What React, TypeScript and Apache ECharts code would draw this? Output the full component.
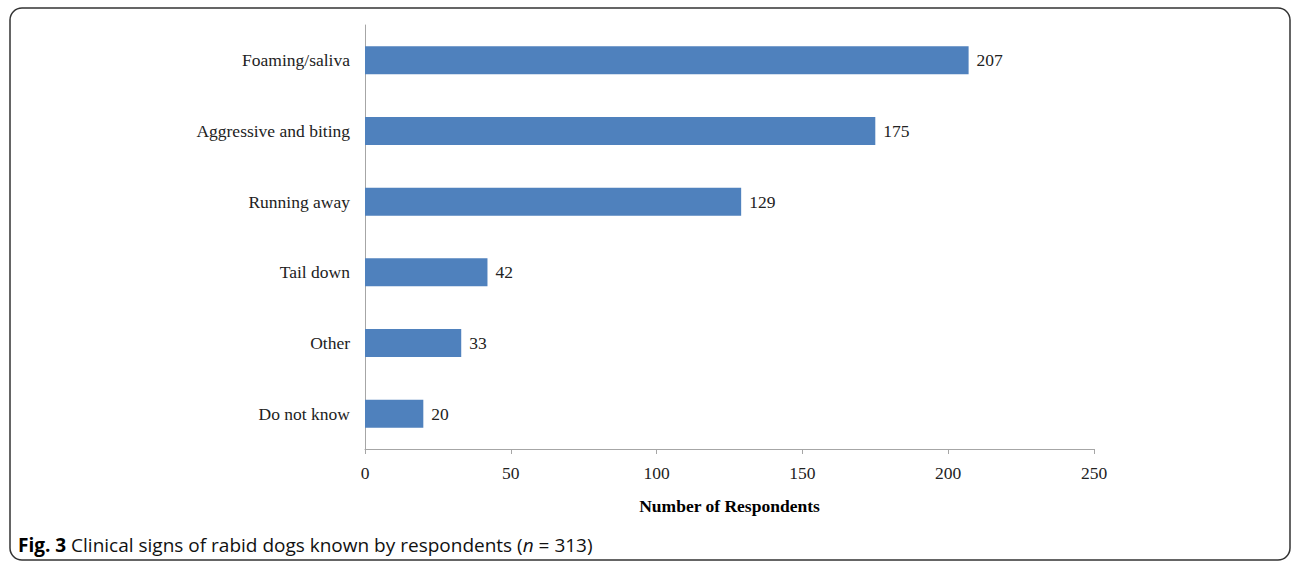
import React, { useEffect, useRef } from "react";
import * as echarts from "echarts";

const categories = ["Foaming/saliva", "Aggressive and biting", "Running away", "Tail down", "Other", "Do not know"];
const values = [207, 175, 129, 42, 33, 20];
const xTicks = { min: 0, max: 250, interval: 50 };
const xAxisTitle = "Number of Respondents";
const captionBold = "Fig. 3";
const captionText = " Clinical signs of rabid dogs known by respondents (";
const captionN = "n";
const captionTail = " = 313)";

export default function App() {
  const ref = useRef<HTMLDivElement>(null);
  useEffect(() => {
    document.body.style.margin = "0";
    const chart = echarts.init(ref.current!, null, { renderer: "svg" });
    const serif = "Liberation Serif";
    const fs = 17.5;
    chart.setOption({
      animation: false,
      backgroundColor: "#ffffff",
      grid: { left: 365, right: 198, top: 25, bottom: 114, containLabel: false },
      xAxis: {
        type: "value",
        min: xTicks.min,
        max: xTicks.max,
        interval: xTicks.interval,
        name: xAxisTitle,
        nameLocation: "middle",
        nameGap: 48,
        nameTextStyle: { fontFamily: serif, fontWeight: "bold", fontSize: fs, color: "#000" },
        axisLine: { show: true, lineStyle: { color: "#a6a6a6", width: 1 } },
        axisTick: { show: true, length: 5, lineStyle: { color: "#a6a6a6" } },
        axisLabel: { fontFamily: serif, fontSize: fs, color: "#222", margin: 15 },
        splitLine: { show: false },
      },
      yAxis: {
        type: "category",
        data: categories,
        inverse: true,
        axisLine: { show: true, lineStyle: { color: "#a6a6a6", width: 1 } },
        axisTick: { show: false },
        axisLabel: { fontFamily: serif, fontSize: fs, color: "#222", margin: 15 },
      },
      series: [
        {
          type: "bar",
          data: values,
          barWidth: 28,
          itemStyle: { color: "#4f81bd" },
          label: {
            show: true,
            position: "right",
            distance: 8,
            fontFamily: serif,
            fontSize: fs,
            color: "#222",
          },
        },
      ],
      graphic: [
        {
          type: "rect",
          shape: { x: 10, y: 8, width: 1280, height: 552, r: 12 },
          style: { fill: "none", stroke: "#333", lineWidth: 1.5 },
          silent: true,
        },
        {
          type: "text",
          left: 18,
          top: 535,
          style: {
            text: `{b|${captionBold}}{r|${captionText}}{i|${captionN}}{r|${captionTail}}`,
            rich: {
              b: { fontFamily: "Open Sans", fontWeight: "bold", fontSize: 19, fill: "#000" },
              r: { fontFamily: "Open Sans", fontSize: 19, fill: "#111" },
              i: { fontFamily: "Open Sans", fontStyle: "italic", fontSize: 19, fill: "#111" },
            },
          },
        },
      ],
    });
    return () => chart.dispose();
  }, []);
  return <div ref={ref} style={{ width: 1292, height: 563 }} />;
}
